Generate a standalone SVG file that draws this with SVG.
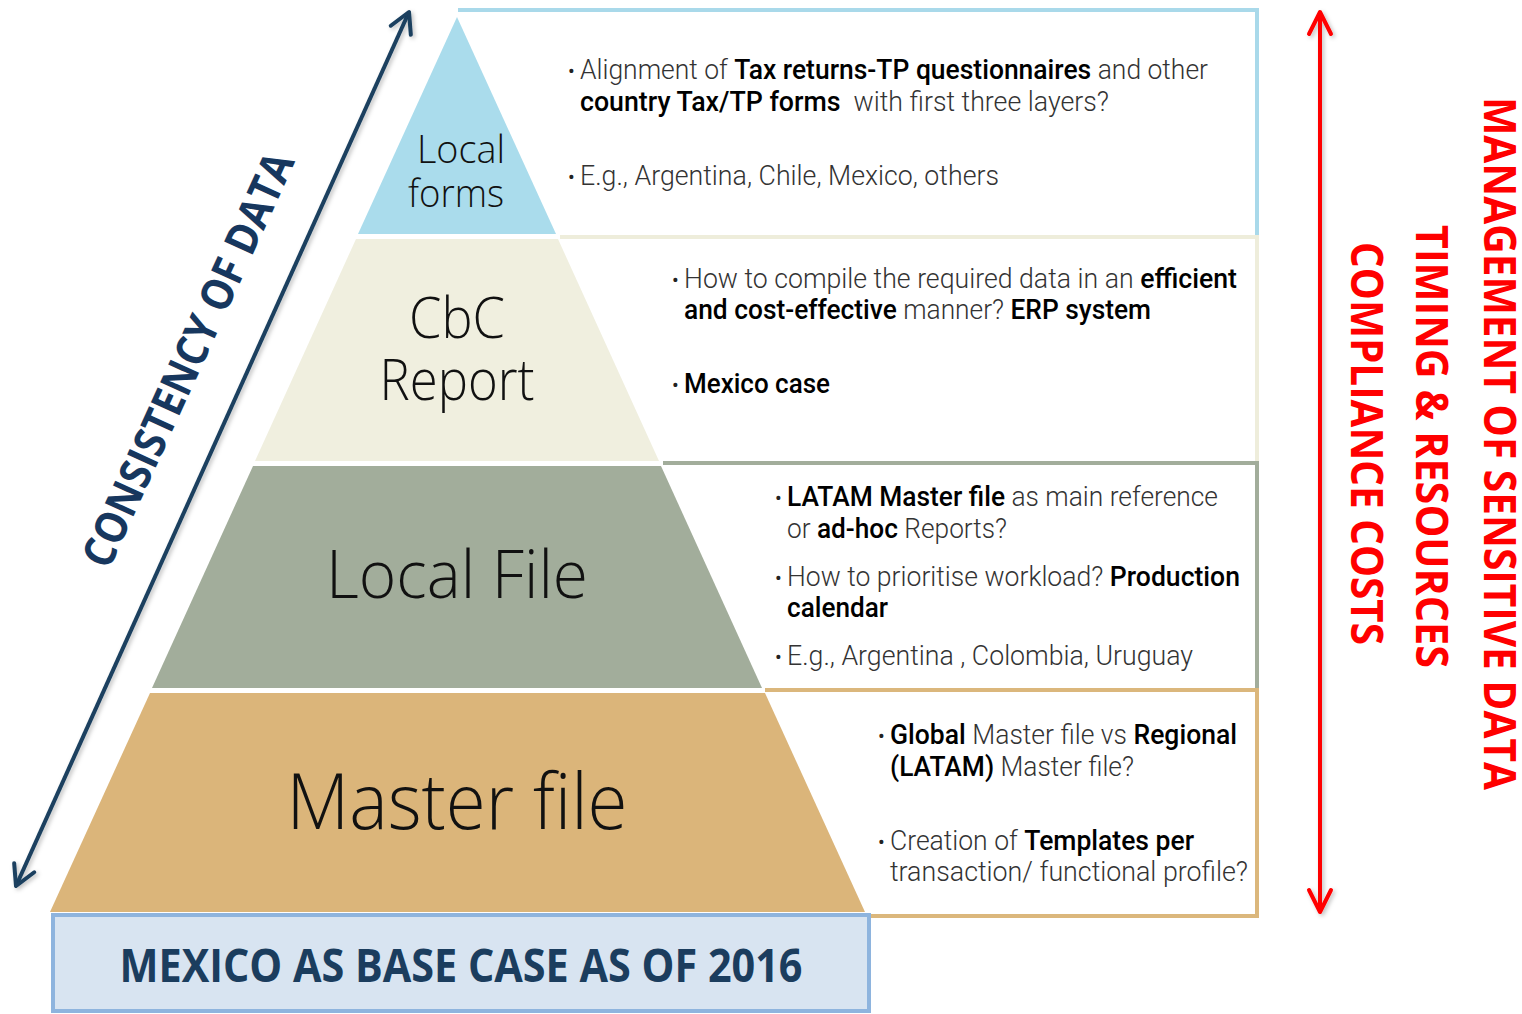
<svg xmlns="http://www.w3.org/2000/svg" width="1522" height="1014" viewBox="0 0 1522 1014">
<style>
.lbl{font-family:"Open Sans","Liberation Sans",sans-serif;font-weight:300;fill:#111;text-anchor:middle}
.bt{font-family:Roboto,"Liberation Sans",sans-serif;font-weight:300;font-size:27px;fill:#333}
.bt .b{font-weight:500;fill:#000}
.dot{font-family:Roboto,"Liberation Sans",sans-serif;font-size:20px;fill:#222}
.side{font-family:"Open Sans","Liberation Sans",sans-serif;font-weight:700;font-size:45px;fill:#ff0000}
.box{fill:none;stroke-width:4}
</style>
<defs>
<filter id="sh" filterUnits="userSpaceOnUse" x="0" y="0" width="1522" height="1014">
<feDropShadow dx="2" dy="2" stdDeviation="2" flood-color="#000" flood-opacity="0.25"/>
</filter>
<marker id="navyHead" markerUnits="userSpaceOnUse" markerWidth="40" markerHeight="40" viewBox="-30 -20 40 40" refX="0" refY="0" orient="auto-start-reverse">
<path d="M-20,-11 L0,0 L-20,11" fill="none" stroke="#1a3f5f" stroke-width="4" stroke-linecap="round" stroke-linejoin="round"/>
</marker>
<marker id="redHead" markerUnits="userSpaceOnUse" markerWidth="40" markerHeight="40" viewBox="-30 -20 40 40" refX="0" refY="0" orient="auto-start-reverse">
<path d="M-22,-11 L0,0 L-22,11" fill="none" stroke="#ff0000" stroke-width="4" stroke-linecap="round" stroke-linejoin="round"/>
</marker>
</defs>
<rect width="1522" height="1014" fill="#fff"/>

<!-- description boxes -->
<g id="box-local-forms">
<path class="box" d="M458,10 H1257 V236" stroke="#a9d9ea"/>
<text class="dot" x="568" y="78">•</text>
<text class="bt" x="580" y="79" textLength="628" lengthAdjust="spacingAndGlyphs">Alignment of <tspan class="b">Tax returns-TP questionnaires</tspan> and other</text>
<text class="bt" x="580" y="111" textLength="529" lengthAdjust="spacingAndGlyphs" style="white-space:pre"><tspan class="b">country Tax/TP forms</tspan>  with first three layers?</text>
<text class="dot" x="568" y="184">•</text>
<text class="bt" x="580" y="185" textLength="419" lengthAdjust="spacingAndGlyphs">E.g., Argentina, Chile, Mexico, others</text>
</g>
<g id="box-cbc">
<path class="box" d="M560,237 H1257 V461" stroke="#eeeddb"/>
<text class="dot" x="672" y="287">•</text>
<text class="bt" x="684" y="288" textLength="553" lengthAdjust="spacingAndGlyphs">How to compile the required data in an <tspan class="b">efficient</tspan></text>
<text class="bt" x="684" y="319" textLength="467" lengthAdjust="spacingAndGlyphs"><tspan class="b">and cost-effective</tspan> manner? <tspan class="b">ERP system</tspan></text>
<text class="dot" x="672" y="392">•</text>
<text class="bt" x="684" y="393" textLength="146" lengthAdjust="spacingAndGlyphs"><tspan class="b">Mexico case</tspan></text>
</g>
<g id="box-local-file">
<path class="box" d="M663,463 H1257 V689" stroke="#a2ad9b"/>
<text class="dot" x="775" y="505">•</text>
<text class="bt" x="787" y="506" textLength="431" lengthAdjust="spacingAndGlyphs"><tspan class="b">LATAM Master file</tspan> as main reference</text>
<text class="bt" x="787" y="538" textLength="220" lengthAdjust="spacingAndGlyphs">or <tspan class="b">ad-hoc</tspan> Reports?</text>
<text class="dot" x="775" y="585">•</text>
<text class="bt" x="787" y="586" textLength="453" lengthAdjust="spacingAndGlyphs">How to prioritise workload? <tspan class="b">Production</tspan></text>
<text class="bt" x="787" y="617" textLength="101" lengthAdjust="spacingAndGlyphs"><tspan class="b">calendar</tspan></text>
<text class="dot" x="775" y="664">•</text>
<text class="bt" x="787" y="665" textLength="406" lengthAdjust="spacingAndGlyphs">E.g., Argentina , Colombia, Uruguay</text>
</g>
<g id="box-master-file">
<path class="box" d="M765,690 H1257 V916 H865" stroke="#dbb77c"/>
<text class="dot" x="878" y="743">•</text>
<text class="bt" x="890" y="744" textLength="347" lengthAdjust="spacingAndGlyphs"><tspan class="b">Global</tspan> Master file vs <tspan class="b">Regional</tspan></text>
<text class="bt" x="890" y="776" textLength="244" lengthAdjust="spacingAndGlyphs"><tspan class="b">(LATAM)</tspan> Master file?</text>
<text class="dot" x="878" y="849">•</text>
<text class="bt" x="890" y="850" textLength="304" lengthAdjust="spacingAndGlyphs">Creation of <tspan class="b">Templates per</tspan></text>
<text class="bt" x="890" y="881" textLength="358" lengthAdjust="spacingAndGlyphs">transaction/ functional profile?</text>
</g>

<!-- pyramid tiers -->
<g id="tier-local-forms">
<polygon points="457,17 556,234 358,234" fill="#aadcec"/>
<text class="lbl" x="461" y="163" font-size="39" textLength="88" lengthAdjust="spacingAndGlyphs">Local</text>
<text class="lbl" x="456" y="207" font-size="39" textLength="96" lengthAdjust="spacingAndGlyphs">forms</text>
</g>
<g id="tier-cbc">
<polygon points="356,239 558,239 659,461 255,461" fill="#f0efdf"/>
<text class="lbl" x="457" y="338" font-size="57" textLength="96" lengthAdjust="spacingAndGlyphs">CbC</text>
<text class="lbl" x="457" y="400" font-size="57" textLength="155" lengthAdjust="spacingAndGlyphs">Report</text>
</g>
<g id="tier-local-file">
<polygon points="253,466 661,466 762,688 152,688" fill="#a2ad9b"/>
<text class="lbl" x="457" y="598" font-size="66" textLength="262" lengthAdjust="spacingAndGlyphs">Local File</text>
</g>
<g id="tier-master-file">
<polygon points="150,693 765,693 865,912 50,912" fill="#dbb57a"/>
<text class="lbl" x="457" y="829" font-size="78" textLength="341" lengthAdjust="spacingAndGlyphs">Master file</text>
</g>
<g id="base-box">
<rect x="53" y="915" width="816" height="96" fill="#d8e4f1" stroke="#8eb4de" stroke-width="4"/>
<text x="461" y="982" font-family="'Open Sans','Liberation Sans',sans-serif" font-weight="700" font-size="46" fill="#1b3d5e" text-anchor="middle" textLength="683" lengthAdjust="spacingAndGlyphs">MEXICO AS BASE CASE AS OF 2016</text>
</g>

<!-- connectors -->
<g id="connectors" filter="url(#sh)">
<line x1="16" y1="886" x2="409" y2="12" stroke="#1a3f5f" stroke-width="4" marker-start="url(#navyHead)" marker-end="url(#navyHead)"/>
<line x1="1320" y1="12" x2="1320" y2="912" stroke="#ff0000" stroke-width="4" marker-start="url(#redHead)" marker-end="url(#redHead)"/>
</g>

<g id="label-consistency">
<text transform="translate(202,366) rotate(-65.5)" x="0" y="0" font-family="'Open Sans','Liberation Sans',sans-serif" font-weight="700" font-size="44" fill="#17375e" text-anchor="middle" textLength="450" lengthAdjust="spacingAndGlyphs">CONSISTENCY OF DATA</text>
</g>
<g id="label-management">
<text class="side" transform="translate(1484,97) rotate(90)" textLength="693" lengthAdjust="spacingAndGlyphs">MANAGEMENT OF SENSITIVE DATA</text>
</g>
<g id="label-timing">
<text class="side" transform="translate(1416,225) rotate(90)" textLength="443" lengthAdjust="spacingAndGlyphs">TIMING &amp; RESOURCES</text>
</g>
<g id="label-compliance">
<text class="side" transform="translate(1351,242) rotate(90)" textLength="403" lengthAdjust="spacingAndGlyphs">COMPLIANCE COSTS</text>
</g>
</svg>
